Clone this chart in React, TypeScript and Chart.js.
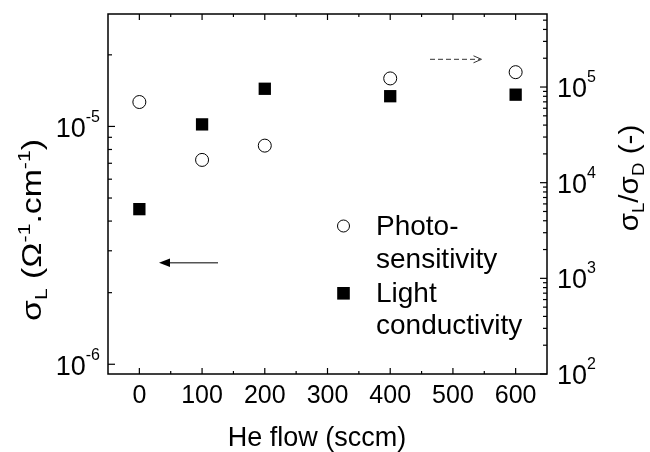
import React, { useEffect, useRef } from 'react';
import { Chart, registerables } from 'chart.js';

Chart.register(...registerables);

// ---- data ----
const heFlow = [0, 100, 200, 400, 600];
const lightConductivity = [4.49e-6, 1.02e-5, 1.44e-5, 1.34e-5, 1.36e-5];
const photoSensitivity = [6.97e4, 1.73e4, 2.44e4, 1.23e5, 1.43e5];

const xTickValues = [0, 100, 200, 300, 400, 500, 600];
const xTickLabels = ['0', '100', '200', '300', '400', '500', '600'];
const xMinorTickValues = [50, 150, 250, 350, 450, 550];
const leftMajorExponents = [-6, -5];
const rightMajorExponents = [2, 3, 4, 5];
const minorMultipliers = [2, 3, 4, 5, 6, 7, 8, 9];

const X_MIN = -50;
const X_MAX = 650;
const Y_MIN = 9.1e-7;
const Y_MAX = 2.97e-5;
const Y2_MIN = 100;
const Y2_MAX = 5.8e5;

const F = "'Liberation Sans', Arial, Helvetica, sans-serif";

type Part = { t: string; s: number; dy?: number };

function drawParts(ctx: CanvasRenderingContext2D, parts: Part[], x: number, y: number, align: 'left' | 'right' | 'center') {
  let total = 0;
  for (const p of parts) {
    ctx.font = `${p.s}px ${F}`;
    total += ctx.measureText(p.t).width;
  }
  let cx = align === 'left' ? x : align === 'right' ? x - total : x - total / 2;
  ctx.textAlign = 'left';
  ctx.textBaseline = 'alphabetic';
  for (const p of parts) {
    ctx.font = `${p.s}px ${F}`;
    ctx.fillText(p.t, cx, y + (p.dy || 0));
    cx += ctx.measureText(p.t).width;
  }
}

const axesPlugin = {
  id: 'customAxes',
  afterDraw(chart: any) {
    const { ctx, chartArea: a, scales } = chart;
    const xs = scales.x, ys = scales.y, y2s = scales.y2;
    ctx.save();
    ctx.strokeStyle = '#000';
    ctx.fillStyle = '#000';
    ctx.lineWidth = 1.5;
    ctx.strokeRect(a.left, a.top, a.right - a.left, a.bottom - a.top);
    const line = (x1: number, y1: number, x2: number, y2: number) => {
      ctx.beginPath();
      ctx.moveTo(x1, y1);
      ctx.lineTo(x2, y2);
      ctx.stroke();
    };
    ctx.lineWidth = 1.2;
    // x ticks (bottom + top, inward)
    xTickValues.forEach((v) => {
      const px = xs.getPixelForValue(v);
      line(px, a.bottom, px, a.bottom - 6);
      line(px, a.top, px, a.top + 6);
    });
    xMinorTickValues.forEach((v) => {
      const px = xs.getPixelForValue(v);
      line(px, a.bottom, px, a.bottom - 3);
      line(px, a.top, px, a.top + 3);
    });
    // left log ticks
    for (let e = -7; e <= -4; e++) {
      [1, ...minorMultipliers].forEach((m) => {
        const v = m * Math.pow(10, e);
        if (v < Y_MIN || v > Y_MAX) return;
        const py = ys.getPixelForValue(v);
        line(a.left, py, a.left + (m === 1 ? 7 : 4), py);
      });
    }
    // right log ticks
    for (let e = 2; e <= 5; e++) {
      [1, ...minorMultipliers].forEach((m) => {
        const v = m * Math.pow(10, e);
        if (v < Y2_MIN || v > Y2_MAX) return;
        const py = y2s.getPixelForValue(v);
        line(a.right, py, a.right - (m === 1 ? 7 : 4), py);
      });
    }
    // x tick labels
    ctx.font = `25px ${F}`;
    ctx.textAlign = 'center';
    ctx.textBaseline = 'alphabetic';
    xTickValues.forEach((v, i) => {
      ctx.fillText(xTickLabels[i], xs.getPixelForValue(v), 403);
    });
    // left tick labels
    leftMajorExponents.forEach((e) => {
      const py = ys.getPixelForValue(Math.pow(10, e));
      drawParts(ctx, [{ t: '10', s: 27 }, { t: String(e), s: 16, dy: -15 }], 100, py + 10.5, 'right');
    });
    // right tick labels
    rightMajorExponents.forEach((e) => {
      const py = y2s.getPixelForValue(Math.pow(10, e));
      drawParts(ctx, [{ t: '10', s: 27 }, { t: String(e), s: 16, dy: -15 }], 557, py + 10, 'left');
    });
    // x title
    drawParts(ctx, [{ t: 'He flow (sccm)', s: 27 }], 317, 446, 'center');
    // left title
    ctx.save();
    ctx.translate(41, 230);
    ctx.rotate(-Math.PI / 2);
    ctx.scale(1.25, 1);
    drawParts(ctx, [
      { t: 'σ', s: 27 },
      { t: 'L', s: 17, dy: 6 },
      { t: ' (Ω', s: 27 },
      { t: '-1', s: 17, dy: -11 },
      { t: '.cm', s: 27 },
      { t: '-1', s: 17, dy: -11 },
      { t: ')', s: 27 },
    ], 0, 0, 'center');
    ctx.restore();
    // right title
    ctx.save();
    ctx.translate(638, 178);
    ctx.rotate(-Math.PI / 2);
    ctx.scale(1.1, 1);
    drawParts(ctx, [
      { t: 'σ', s: 27 },
      { t: 'L', s: 17, dy: 6 },
      { t: '/σ', s: 27 },
      { t: 'D', s: 17, dy: 6 },
      { t: ' (-)', s: 27 },
    ], 0, 0, 'center');
    ctx.restore();
    // legend
    ctx.lineWidth = 1;
    ctx.beginPath();
    ctx.arc(343.5, 226, 6, 0, Math.PI * 2);
    ctx.fillStyle = '#fff';
    ctx.fill();
    ctx.stroke();
    ctx.fillStyle = '#000';
    ctx.fillRect(337.2, 287, 12.6, 12.6);
    ctx.font = `28px ${F}`;
    ctx.textAlign = 'left';
    ctx.fillText('Photo-', 376, 235);
    ctx.fillText('sensitivity', 376, 268);
    ctx.fillText('Light', 376, 301.5);
    ctx.fillText('conductivity', 376, 333.5);
    // solid arrow (left axis)
    ctx.strokeStyle = '#555';
    ctx.lineWidth = 1.5;
    line(218, 262.7, 167, 262.7);
    ctx.fillStyle = '#000';
    ctx.beginPath();
    ctx.moveTo(159, 262.7);
    ctx.lineTo(170, 258.5);
    ctx.lineTo(170, 267);
    ctx.closePath();
    ctx.fill();
    // dashed arrow (right axis)
    ctx.strokeStyle = '#333';
    ctx.lineWidth = 1;
    ctx.setLineDash([5, 3]);
    line(430, 59.3, 480, 59.3);
    ctx.setLineDash([]);
    line(481.5, 59.3, 473.5, 55.8);
    line(481.5, 59.3, 473.5, 62.8);
    ctx.restore();
  },
};

export default function App() {
  const ref = useRef<HTMLCanvasElement | null>(null);
  useEffect(() => {
    if (!ref.current) return;
    const chart = new Chart(ref.current, {
      type: 'scatter',
      data: {
        datasets: [
          {
            label: 'Photo-sensitivity',
            data: heFlow.map((x, i) => ({ x, y: photoSensitivity[i] })),
            yAxisID: 'y2',
            pointStyle: 'circle',
            pointRadius: 6.5,
            pointBorderWidth: 1,
            pointBackgroundColor: '#fff',
            pointBorderColor: '#000',
          },
          {
            label: 'Light conductivity',
            data: heFlow.map((x, i) => ({ x, y: lightConductivity[i] })),
            yAxisID: 'y',
            pointStyle: 'rect',
            pointRadius: 8.7,
            pointBorderWidth: 0,
            pointBackgroundColor: '#000',
            pointBorderColor: '#000',
          },
        ],
      },
      options: {
        animation: false,
        responsive: false,
        devicePixelRatio: 1,
        layout: { padding: { left: 108, right: 103, top: 14, bottom: 78 } },
        plugins: { legend: { display: false }, tooltip: { enabled: false } },
        scales: {
          x: { type: 'linear', min: X_MIN, max: X_MAX, display: false },
          y: { type: 'logarithmic', min: Y_MIN, max: Y_MAX, display: false },
          y2: { type: 'logarithmic', min: Y2_MIN, max: Y2_MAX, display: false, position: 'right' },
        },
      },
      plugins: [axesPlugin],
    });
    return () => chart.destroy();
  }, []);
  return (
    <div style={{ position: 'fixed', left: 0, top: 0, width: 650, height: 452, background: '#fff' }}>
      <canvas ref={ref} width={650} height={452} style={{ display: 'block' }} />
    </div>
  );
}
